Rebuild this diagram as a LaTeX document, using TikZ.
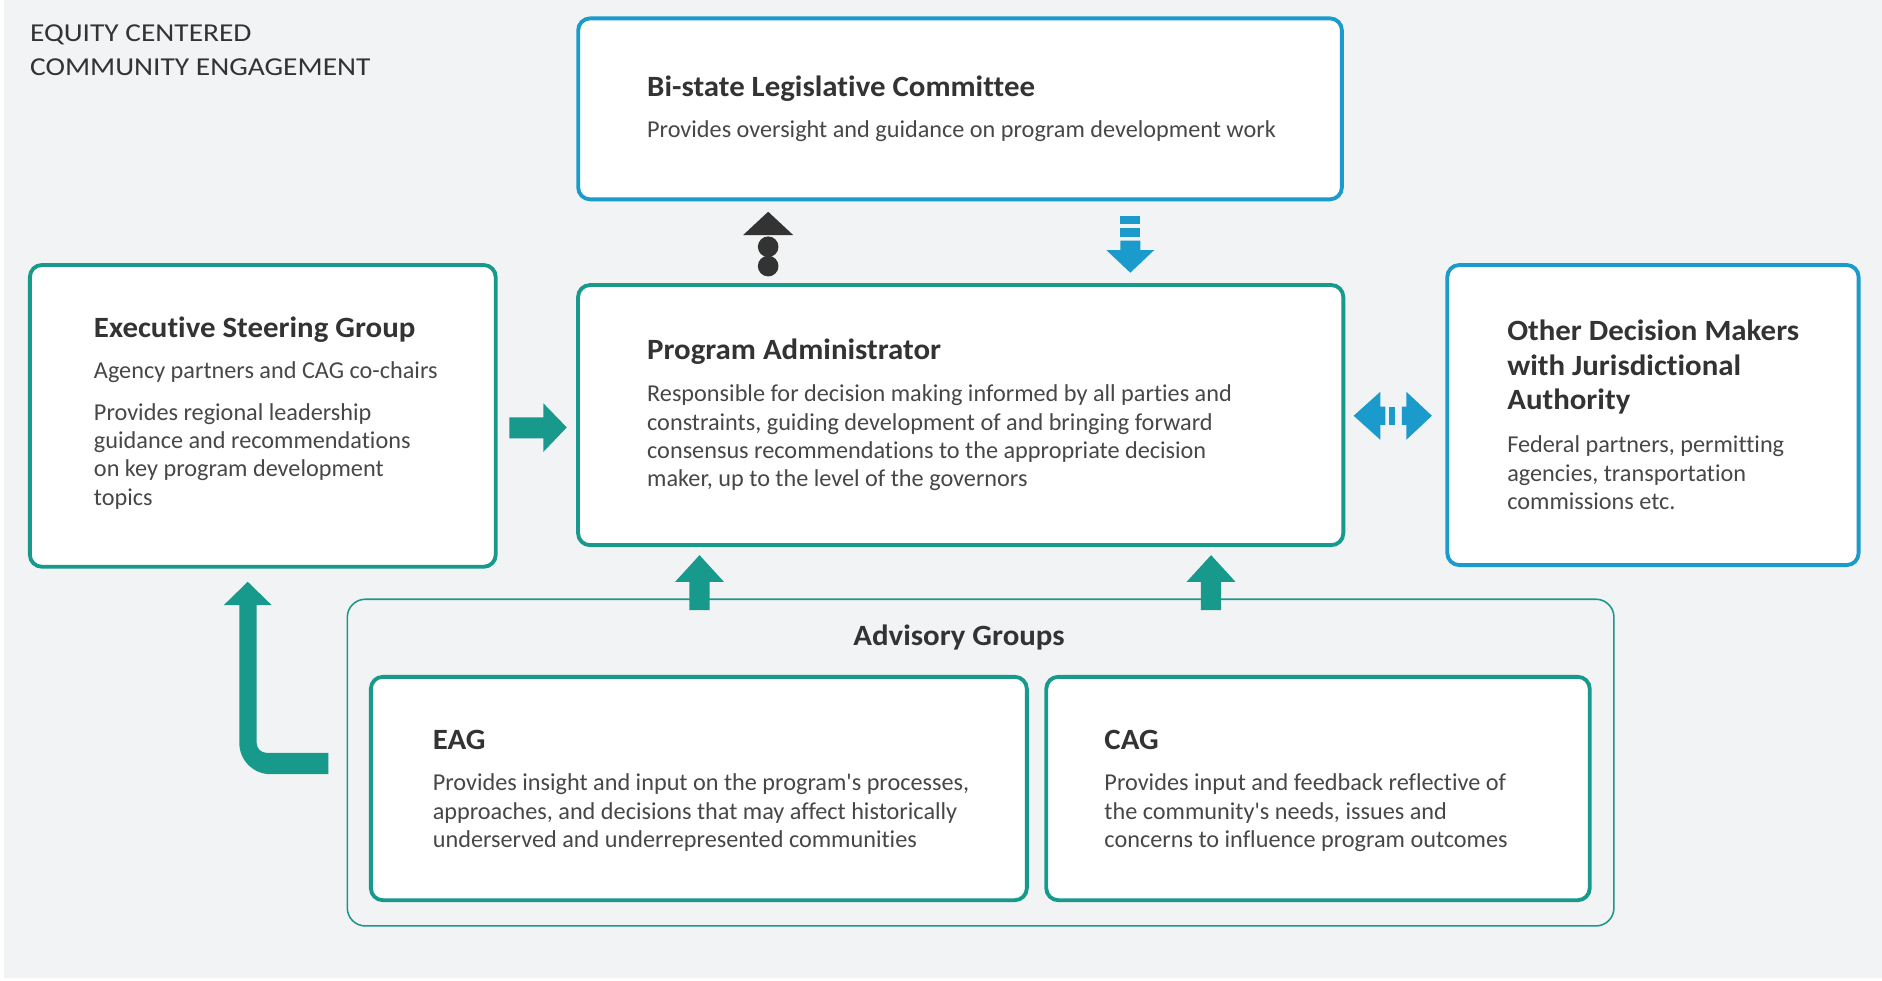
\documentclass[tikz,border=0pt]{standalone}
\usepackage{fontspec}
\setmainfont{Carlito}[Ligatures={TeXOff,NoCommon}]
\newfontfamily\tfont{Carlito}[FakeStretch=1.05,Ligatures={TeXOff,NoCommon}]
\newfontfamily\hfont{Carlito}[FakeStretch=1.14,Ligatures={TeXOff,NoCommon}]
\definecolor{tealc}{HTML}{17998C}
\definecolor{bluec}{HTML}{1A9BCB}
\definecolor{bgc}{HTML}{F2F3F4}
\definecolor{darkc}{HTML}{333333}
\definecolor{bodyc}{HTML}{474747}
\newcommand\lines[1]{\parbox[t]{700pt}{\raggedright #1}}
\tikzset{
  box/.style={draw, line width=3.2pt, fill=white, rounded corners=10pt, inner sep=0pt, outer sep=0pt, anchor=north west},
  tealbox/.style={box, draw=tealc},
  bluebox/.style={box, draw=bluec},
  hdr/.style={anchor=base west, inner sep=0pt, text=darkc, font=\hfont\fontsize{21.5}{26}\selectfont},
  ttl/.style={anchor=base west, inner sep=0pt, text=darkc, font=\tfont\bfseries\fontsize{24.5}{28.6}\selectfont},
  bdy/.style={anchor=base west, inner sep=0pt, text=bodyc, font=\fontsize{20.2}{23.6}\selectfont},
}
\begin{document}
\begin{tikzpicture}[x=1pt,y=-1pt]
\useasboundingbox (0,0) rectangle (1568,816.5);
\fill[bgc] (3,0) rectangle (1568,815);

% header
\node[hdr] (h1) at (24.9,34.3) {EQUITY CENTERED};
\node[hdr] (h2) at (24.9,63) {COMMUNITY ENGAGEMENT};

% boxes
\node[bluebox, minimum width=636.3pt, minimum height=150.8pt] (bsc) at (481.7,15.3) {};
\node[tealbox, minimum width=388.1pt, minimum height=251.4pt] (esg) at (24.9,220.8) {};
\node[tealbox, minimum width=637.6pt, minimum height=216.7pt] (pa) at (481.6,237.5) {};
\node[bluebox, minimum width=342.7pt, minimum height=250pt] (odm) at (1205.8,220.8) {};
\node[draw=tealc, line width=1.3pt, rounded corners=15pt, inner sep=0pt, anchor=north west,
      minimum width=1055.3pt, minimum height=272.2pt] (adv) at (288.7,498.6) {};
\node[tealbox, minimum width=546.5pt, minimum height=186.1pt] (eag) at (309,563.9) {};
\node[tealbox, minimum width=452.8pt, minimum height=186.1pt] (cag) at (871.7,563.9) {};

% arrow PA -> Bi-state (dark, dotted tail)
\fill[darkc] (640,176.4) -- (660.8,195.8) -- (619.2,195.8) -- cycle;
\fill[darkc] (640,205.6) circle[radius=8.6pt];
\fill[darkc] (640,221.7) circle[radius=8.6pt];

% arrow Bi-state -> PA (blue, dashed tail)
\fill[bluec] (933.4,180) rectangle (950,186.7);
\fill[bluec] (933.4,190.3) rectangle (950,197.2);
\fill[bluec] (933.4,200.5) -- (950,200.5) -- (950,208.3) -- (961.7,208.3) -- (941.7,227.2) -- (921.7,208.3) -- (933.4,208.3) -- cycle;

% arrow ESG -> PA
\fill[tealc] (424.4,347.8) -- (452.8,347.8) -- (452.8,336.1) -- (472.2,356.1) -- (452.8,376.4) -- (452.8,365.3) -- (424.4,365.3) -- cycle;

% double arrow PA <-> ODM
\fill[bluec] (1127.8,346.4) -- (1150,326.4) -- (1150,338.8) -- (1154.2,338.8) -- (1154.2,354) -- (1150,354) -- (1150,366.4) -- cycle;
\fill[bluec] (1157.5,338.8) rectangle (1162.5,354);
\fill[bluec] (1193,346.4) -- (1171.7,326.4) -- (1171.7,338.8) -- (1168,338.8) -- (1168,354) -- (1171.7,354) -- (1171.7,366.4) -- cycle;

% arrows Advisory -> PA
\fill[tealc] (574.4,508.3) -- (574.4,484.7) -- (562.5,484.7) -- (582.8,462.5) -- (603.1,484.7) -- (591.2,484.7) -- (591.2,508.3) -- cycle;
\fill[tealc] (1000.6,508.3) -- (1000.6,484.7) -- (988.7,484.7) -- (1009,462.5) -- (1029.3,484.7) -- (1017.4,484.7) -- (1017.4,508.3) -- cycle;

% L arrow EAG -> ESG
\fill[tealc] (273.6,627.2) -- (221.9,627.2) .. controls (217.5,627.2) and (213.9,623.6) .. (213.9,619.2)
  -- (213.9,504.2) -- (226.4,504.2) -- (206.4,484.7) -- (186.4,504.2) -- (199.4,504.2)
  -- (199.4,619) .. controls (199.4,633.4) and (211,645) .. (225.4,645) -- (273.6,645) -- cycle;

% texts
\node[ttl] (bsct) at (539,80) {Bi-state Legislative Committee};
\node[bdy] (bscb) at (539,114.4) {Provides oversight and guidance on program development work};

\node[ttl] (esgt) at (78.1,281.1) {Executive Steering Group};
\node[bdy] (esgb1) at (78.1,315.3) {Agency partners and CAG co-chairs};
\node[bdy] (esgb2) at (78.1,350) {\lines{Provides regional leadership\\guidance and recommendations\\on key program development\\topics}};

\node[ttl] (pat) at (539,299.4) {Program Administrator};
\node[bdy] (pab) at (539,334.7) {\lines{Responsible for decision making informed by all parties and\\constraints, guiding development of and bringing forward\\consensus recommendations to the appropriate decision\\maker, up to the level of the governors}};

\node[ttl] (odmt) at (1255.6,283.9) {\lines{Other Decision Makers\\with Jurisdictional\\Authority}};
\node[bdy] (odmb) at (1255.6,377.2) {\lines{Federal partners, permitting\\agencies, transportation\\commissions etc.}};

\node[ttl, anchor=base] (advt) at (799,537.5) {Advisory Groups};

\node[ttl] (eagt) at (360.4,624.4) {EAG};
\node[bdy] (eagb) at (360.4,659) {\lines{Provides insight and input on the program's processes,\\approaches, and decisions that may affect historically\\underserved and underrepresented communities}};

\node[ttl] (cagt) at (920,624.4) {CAG};
\node[bdy] (cagb) at (920,659) {\lines{Provides input and feedback reflective of\\the community's needs, issues and\\concerns to influence program outcomes}};
\end{tikzpicture}
\end{document}
